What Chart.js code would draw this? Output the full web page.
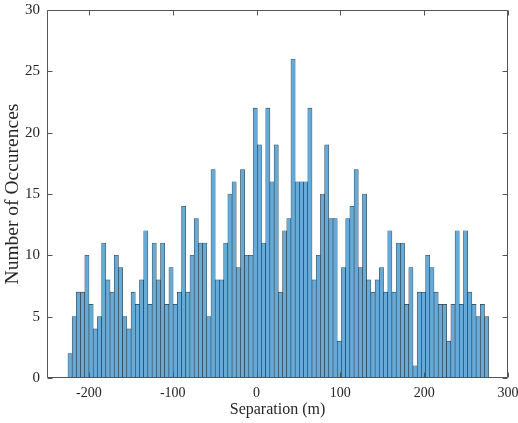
<html>
  <head>
    <script src="https://cdn.jsdelivr.net/npm/chart.js@4.4.1/dist/chart.umd.min.js"></script>
    <style>
      body { margin: 0; background: #fff; }
    </style>
  </head>
  <body>
    <canvas id="histChart" width="518" height="423"></canvas>
    <script>
      // histogram counts, 100 bins from left to right
      var counts = [
        2, 5, 7, 7, 10, 6, 4, 5, 11, 8,
        7, 10, 9, 5, 4, 7, 6, 8, 12, 6,
        11, 8, 11, 6, 9, 6, 7, 14, 7, 10,
        13, 11, 11, 5, 17, 8, 8, 11, 15, 16,
        9, 17, 10, 10, 22, 19, 11, 22, 16, 19,
        7, 12, 13, 26, 16, 16, 16, 22, 8, 10,
        15, 19, 13, 13, 3, 9, 13, 14, 17, 9,
        15, 8, 7, 8, 9, 7, 12, 7, 11, 11,
        6, 9, 1, 7, 7, 10, 9, 7, 6, 6,
        3, 6, 12, 6, 12, 7, 6, 5, 6, 5,
      ];
      var binStart = -225;
      var binWidth = 5.02;
      var xTicks = [-200, -100, 0, 100, 200, 300];
      var yTicks = [0, 5, 10, 15, 20, 25, 30];

      var points = counts.map((c, i) => ({ x: binStart + (i + 0.5) * binWidth, y: c }));

      var axisColor = "#262626";

      // MATLAB style box with inward ticks on all four sides
      var boxPlugin = {
        id: "box",
        afterDatasetsDraw(chart) {
          var ctx = chart.ctx;
          var a = chart.chartArea;
          var x = chart.scales.x;
          var y = chart.scales.y;
          var l = Math.round(a.left) + 0.5;
          var r = Math.round(a.right) - 0.5;
          var t = Math.round(a.top) + 0.5;
          var b = Math.round(a.bottom) - 0.5;
          ctx.save();
          ctx.strokeStyle = "#555";
          ctx.lineWidth = 1;
          ctx.beginPath();
          ctx.rect(l, t, r - l, b - t);
          x.ticks.forEach((tk) => {
            var px = Math.round(x.getPixelForValue(tk.value)) + 0.5;
            ctx.moveTo(px, b); ctx.lineTo(px, b - 5);
            ctx.moveTo(px, t); ctx.lineTo(px, t + 5);
          });
          y.ticks.forEach((tk) => {
            var py = Math.round(y.getPixelForValue(tk.value)) + 0.5;
            ctx.moveTo(l, py); ctx.lineTo(l + 5, py);
            ctx.moveTo(r, py); ctx.lineTo(r - 5, py);
          });
          ctx.stroke();
          ctx.restore();
        },
      };

      var ctx = document.getElementById("histChart").getContext("2d");
      var myChart = new Chart(ctx, {
        type: "bar",
        data: {
          datasets: [
            {
              data: points,
              backgroundColor: "rgb(102, 170, 215)",
              borderColor: "rgba(20, 30, 40, 0.85)",
              borderWidth: 0.6,
              borderSkipped: false,
              barPercentage: 1,
              categoryPercentage: 1,
            },
          ],
        },
        plugins: [boxPlugin],
        options: {
          responsive: false,
          animation: false,
          layout: { padding: { left: 0, right: 10, top: 10, bottom: 0 } },
          plugins: { legend: { display: false }, tooltip: { enabled: false } },
          scales: {
            x: {
              type: "linear",
              offset: false,
              min: -250,
              max: 300,
              grid: { display: false, drawTicks: false, offset: false },
              border: { display: false },
              afterBuildTicks: (s) => { s.ticks = xTicks.map((v) => ({ value: v })); },
              afterFit: (s) => { s.height = 45; s.paddingLeft = 0; s.paddingRight = 0; },
              ticks: { color: axisColor, font: { family: "Liberation Serif", size: 14 }, padding: 7, maxRotation: 0 },
              title: {
                display: true,
                text: "Separation (m)",
                color: axisColor,
                font: { family: "Liberation Serif", size: 16 },
                padding: { top: 0, bottom: 4 },
              },
            },
            y: {
              min: 0,
              max: 30,
              grid: { display: false, drawTicks: false },
              border: { display: false },
              afterBuildTicks: (s) => { s.ticks = yTicks.map((v) => ({ value: v })); },
              afterFit: (s) => { s.width = 47; s.paddingTop = 0; s.paddingBottom = 0; },
              ticks: { color: axisColor, font: { family: "Liberation Serif", size: 15 }, padding: 7 },
              title: {
                display: true,
                text: "Number of Occurences",
                color: axisColor,
                font: { family: "Liberation Serif", size: 19.5 },
                padding: 1,
              },
            },
          },
        },
      });
    </script>
  </body>
</html>
